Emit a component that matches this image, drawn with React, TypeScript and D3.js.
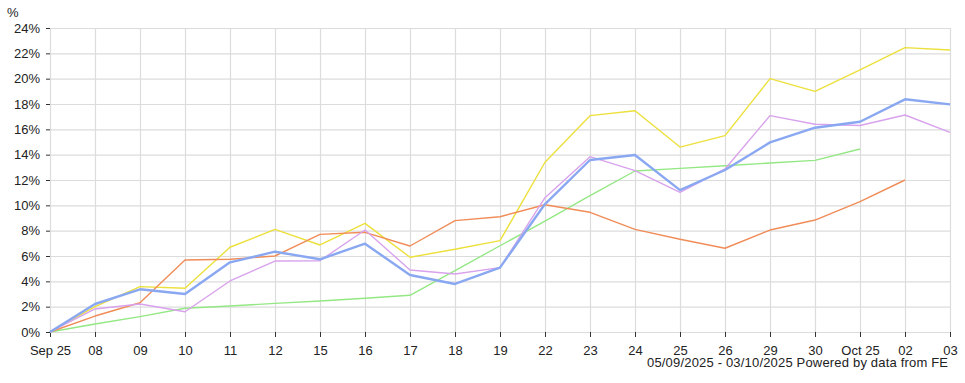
import React, { useEffect, useRef } from "react";
import * as d3 from "d3";

const categories = ["Sep 25", "08", "09", "10", "11", "12", "15", "16", "17", "18", "19", "22", "23", "24", "25", "26", "29", "30", "Oct 25", "02", "03"];
const yTicks = [0, 2, 4, 6, 8, 10, 12, 14, 16, 18, 20, 22, 24];

const yellowSeries = [0, 2.0, 3.58, 3.45, 6.69, 8.1, 6.87, 8.58, 5.9, 6.53, 7.21, 13.4, 17.08, 17.47, 14.6, 15.5, 20.0, 19.0, 20.7, 22.45, 22.26];
const violetSeries = [0, 1.82, 2.21, 1.6, 4.03, 5.6, 5.63, 8.05, 4.9, 4.58, 5.08, 10.6, 13.84, 12.74, 11.03, 12.87, 17.08, 16.4, 16.3, 17.13, 15.76];
const greenSeries = [0, 0.63, 1.21, 1.87, 2.05, 2.26, 2.45, 2.66, 2.9, 4.84, 6.81, 8.76, 10.76, 12.71, 12.92, 13.13, 13.34, 13.55, 14.45, null, null];
const orangeSeries = [0, 1.26, 2.31, 5.68, 5.74, 6.0, 7.71, 7.87, 6.79, 8.79, 9.1, 10.05, 9.45, 8.1, 7.32, 6.61, 8.05, 8.84, 10.29, 12.0, null];
const blueSeries = [0, 2.21, 3.37, 3.0, 5.5, 6.34, 5.74, 6.97, 4.5, 3.79, 5.08, 10.1, 13.58, 13.97, 11.2, 12.79, 14.97, 16.13, 16.6, 18.37, 17.97];

const footer = "05/09/2025 - 03/10/2025 Powered by data from FE";

const seriesList = [
  { values: yellowSeries, color: "#ece03c", width: 1.4 },
  { values: greenSeries, color: "#94e884", width: 1.4 },
  { values: orangeSeries, color: "#f08c58", width: 1.4 },
  { values: violetSeries, color: "#d8a2ec", width: 1.4 },
  { values: blueSeries, color: "#8aa8f2", width: 2.4 },
];

const W = 965;
const H = 383;
const M = { left: 50, right: 15, top: 28, bottom: 51 };

export default function App() {
  const ref = useRef<SVGSVGElement | null>(null);

  useEffect(() => {
    const svg = d3.select(ref.current);
    svg.selectAll("*").remove();
    const font = "'Liberation Sans', Arial, sans-serif";

    const x = d3.scalePoint<string>().domain(categories).range([M.left, W - M.right]);
    const y = d3.scaleLinear().domain([0, 24]).range([H - M.bottom, M.top]);

    const g = svg.append("g");

    // grid
    g.selectAll("line.hg").data(yTicks).enter().append("line")
      .attr("x1", M.left).attr("x2", W - M.right)
      .attr("y1", (d) => y(d) + 0.5).attr("y2", (d) => y(d) + 0.5)
      .attr("stroke", "#dcdcdc").attr("stroke-width", 1.2);
    g.selectAll("line.vg").data(categories).enter().append("line")
      .attr("x1", (d) => (x(d) as number) + 0.5).attr("x2", (d) => (x(d) as number) + 0.5)
      .attr("y1", M.top).attr("y2", H - M.bottom)
      .attr("stroke", "#dcdcdc").attr("stroke-width", 1.2);

    // ticks
    g.selectAll("line.yt").data(yTicks).enter().append("line")
      .attr("x1", M.left - 4).attr("x2", M.left)
      .attr("y1", (d) => y(d) + 0.5).attr("y2", (d) => y(d) + 0.5)
      .attr("stroke", "#333").attr("stroke-width", 1);
    g.selectAll("line.xt").data(categories).enter().append("line")
      .attr("x1", (d) => (x(d) as number) + 0.5).attr("x2", (d) => (x(d) as number) + 0.5)
      .attr("y1", H - M.bottom).attr("y2", H - M.bottom + 5)
      .attr("stroke", "#333").attr("stroke-width", 1);

    // labels
    g.selectAll("text.yl").data(yTicks).enter().append("text")
      .attr("x", M.left - 10).attr("y", (d) => y(d) + 4.5)
      .attr("text-anchor", "end").attr("font-family", font).attr("font-size", 13).attr("fill", "#222")
      .text((d) => `${d}%`);
    g.selectAll("text.xl").data(categories).enter().append("text")
      .attr("x", (d) => (x(d) as number) + 0.5).attr("y", H - M.bottom + 23)
      .attr("text-anchor", "middle").attr("font-family", font).attr("font-size", 13).attr("fill", "#222")
      .text((d) => d);
    g.append("text").attr("x", 7).attr("y", 17).attr("font-family", font).attr("font-size", 13).attr("fill", "#222").text("%");
    g.append("text").attr("x", 647).attr("y", 367)
      .attr("textLength", 301).attr("lengthAdjust", "spacing")
      .attr("font-family", font).attr("font-size", 13).attr("fill", "#222").text(footer);

    // lines
    const line = d3.line<number | null>()
      .defined((d) => d !== null)
      .x((_, i) => x(categories[i]) as number)
      .y((d) => y(d as number));
    seriesList.forEach((s) => {
      g.append("path").datum(s.values).attr("d", line as any)
        .attr("fill", "none").attr("stroke", s.color).attr("stroke-width", s.width)
        .attr("stroke-linejoin", "round");
    });
  }, []);

  return (
    <div style={{ position: "absolute", left: 0, top: 0 }}>
      <svg ref={ref} width={W} height={H} style={{ display: "block", background: "#fff" }} />
    </div>
  );
}
